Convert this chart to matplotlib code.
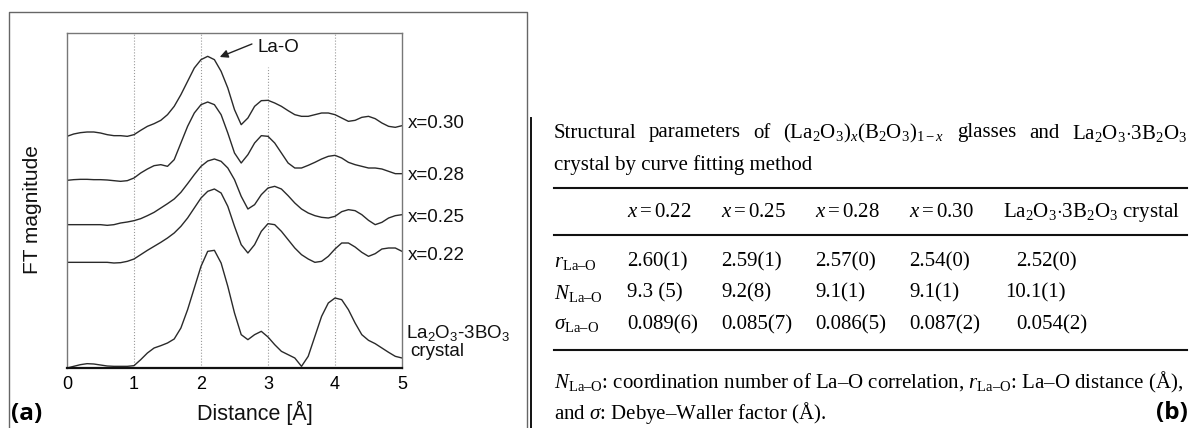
import matplotlib
matplotlib.use("Agg")
import matplotlib.pyplot as plt

plt.rcParams['mathtext.fontset'] = 'custom'
plt.rcParams['mathtext.rm'] = 'Liberation Serif'
plt.rcParams['mathtext.it'] = 'Liberation Serif:italic'
plt.rcParams['mathtext.bf'] = 'Liberation Serif:bold'

# ---------------- data: panel (a) ----------------
distance = [0.0, 0.1, 0.2, 0.3, 0.4, 0.5, 0.6, 0.7, 0.8, 0.9,
            1.0, 1.1, 1.2, 1.3, 1.4, 1.5, 1.6, 1.7, 1.8, 1.9,
            2.0, 2.1, 2.2, 2.3, 2.4, 2.5, 2.6, 2.7, 2.8, 2.9,
            3.0, 3.1, 3.2, 3.3, 3.4, 3.5, 3.6, 3.7, 3.8, 3.9,
            4.0, 4.1, 4.2, 4.3, 4.4, 4.5, 4.6, 4.7, 4.8, 4.9, 5.0]

ft_x030 = [69.5, 70.2, 70.6, 70.8, 70.8, 70.5, 70.0, 69.7, 69.7, 69.5,
           70.0, 71.3, 72.5, 73.3, 74.3, 76.0, 78.5, 82.0, 86.0, 90.0,
           92.5, 93.5, 92.5, 89.0, 84.0, 77.5, 73.0, 75.0, 78.5, 80.2,
           80.3, 79.5, 78.5, 77.2, 76.0, 75.5, 75.5, 76.0, 76.5, 76.5,
           76.0, 75.0, 74.0, 74.3, 75.2, 75.5, 74.8, 73.5, 72.5, 72.2, 72.7]
ft_x028 = [56.3, 56.5, 56.6, 56.6, 56.5, 56.5, 56.4, 56.2, 56.0, 56.2,
           57.0, 58.5, 59.7, 60.7, 61.0, 60.5, 62.5, 67.5, 72.5, 76.5,
           79.0, 79.8, 79.0, 76.0, 70.5, 64.5, 61.5, 64.0, 67.5, 69.7,
           69.5, 67.5, 64.5, 61.5, 60.0, 60.0, 60.8, 61.7, 62.7, 63.5,
           63.8, 63.0, 61.7, 61.0, 60.5, 60.0, 60.0, 59.7, 59.0, 58.3, 58.3]
ft_x025 = [43.0, 43.0, 43.0, 43.0, 43.0, 43.0, 42.8, 43.0, 43.5, 43.8,
           44.2, 44.8, 45.7, 46.7, 48.0, 49.3, 50.7, 52.7, 55.3, 58.0,
           60.5, 62.1, 62.7, 62.0, 60.0, 56.5, 51.5, 47.7, 49.0, 52.0,
           54.0, 54.5, 53.7, 51.7, 49.5, 47.7, 46.5, 45.7, 45.2, 45.0,
           45.5, 46.9, 47.5, 47.2, 46.0, 44.3, 43.0, 43.7, 45.0, 45.7, 46.0]
ft_x022 = [31.7, 31.7, 31.7, 31.7, 31.7, 31.7, 31.7, 31.5, 31.6, 32.0,
           32.7, 34.0, 35.3, 36.5, 37.7, 39.0, 40.5, 42.5, 45.0, 48.0,
           51.0, 53.0, 53.7, 52.5, 48.5, 42.5, 37.0, 34.5, 37.0, 41.0,
           43.3, 43.0, 41.0, 38.5, 36.0, 34.0, 32.7, 31.7, 32.0, 33.5,
           35.7, 37.5, 37.5, 36.3, 34.7, 33.5, 34.3, 35.7, 36.0, 36.0, 35.0]
ft_crystal = [0.0, 0.5, 1.0, 1.3, 1.2, 0.9, 0.6, 0.5, 0.5, 0.5,
              0.7, 2.5, 4.5, 6.0, 6.7, 7.5, 8.7, 12.0, 17.5, 24.0,
              30.5, 35.0, 35.3, 31.5, 24.5, 16.5, 10.0, 8.5, 10.0, 11.0,
              9.3, 7.0, 5.0, 4.0, 3.0, 0.5, 3.5, 9.5, 15.5, 19.5,
              21.0, 20.5, 17.5, 13.5, 10.0, 8.3, 7.3, 6.0, 4.7, 3.5, 3.0]

curve_labels = ["x=0.30", "x=0.28", "x=0.25", "x=0.22"]
curve_label_y = [73.5, 57.9, 45.3, 33.6]
x_ticks = [0, 1, 2, 3, 4, 5]

# ---------------- data: panel (b) table ----------------
title_words = ["Structural", "parameters", "of",
               r"$(\mathrm{La_2O_3})_x(\mathrm{B_2O_3})_{1-x}$",
               "glasses", "and", r"$\mathrm{La_2O_3{\cdot}3B_2O_3}$"]
title_line2 = "crystal by curve fitting method"
col_headers = [r"$x = 0.22$", r"$x = 0.25$", r"$x = 0.28$", r"$x = 0.30$",
               r"$\mathrm{La_2O_3{\cdot}3B_2O_3}$ crystal"]
row_labels = [r"$r_{\mathrm{La–O}}$", r"$N_{\mathrm{La–O}}$", r"$\sigma_{\mathrm{La–O}}$"]
r_vals = ["2.60(1)", "2.59(1)", "2.57(0)", "2.54(0)", "2.52(0)"]
N_vals = ["9.3 (5)", "9.2(8)", "9.1(1)", "9.1(1)", "10.1(1)"]
s_vals = ["0.089(6)", "0.085(7)", "0.086(5)", "0.087(2)", "0.054(2)"]
footnote = [r"$N_{\mathrm{La–O}}$: coordination number of La–O correlation, $r_{\mathrm{La–O}}$: La–O distance (Å),",
            r"and $\sigma$: Debye–Waller factor (Å)."]

# ---------------- figure ----------------
W, H = 1190, 428
fig = plt.figure(figsize=(W / 100, H / 100), dpi=100)

ov = fig.add_axes([0, 0, 1, 1], zorder=0)
ov.set_xlim(0, W)
ov.set_ylim(H, 0)
ov.axis('off')

# panel (a) frame
ov.plot([9, 9, 527, 527], [H, 12, 12, H], color='#666666', lw=1.0)
# panel (b) frame line
ov.plot([530.5, 530.5], [118, H], color='#111111', lw=1.4)

sans = 'Liberation Sans'
serif = 'Liberation Serif'

ax = fig.add_axes([67 / W, (H - 368) / H, (402 - 67) / W, (368 - 33) / H], zorder=2)
ax.set_facecolor('none')
ax.set_xlim(0, 5)
ax.set_ylim(0, 100.5)

for xv in [1, 2, 4]:
    ax.axvline(xv, color='#9a9a9a', lw=0.8, ls=':')
ax.axvline(3, ymax=0.9, color='#9a9a9a', lw=0.8, ls=':')

for ys in [ft_x030, ft_x028, ft_x025, ft_x022, ft_crystal]:
    ax.plot(distance, ys, color='#2a2a2a', lw=1.0)

for lab, yv in zip(curve_labels, curve_label_y):
    ax.text(5.09, yv, lab, fontsize=13.5, family=sans, va='center', ha='left',
            clip_on=False, color='#111111')
ax.text(5.06, 10.5, r"La$\mathregular{_2}$O$\mathregular{_3}$-3BO$\mathregular{_3}$",
        fontsize=13.5, family=sans, va='center', ha='left', clip_on=False, color='#111111')
ax.text(5.12, 4.8, "crystal", fontsize=13.5, family=sans, va='center', ha='left',
        clip_on=False, color='#111111')

ax.annotate('', xy=(2.28, 93.3), xytext=(2.76, 97.2),
            arrowprops=dict(arrowstyle='-|>', color='#222222', lw=1.0, mutation_scale=12,
                            shrinkA=0, shrinkB=0))
ax.text(2.84, 96.3, "La-O", fontsize=13.5, family=sans, va='center', ha='left', color='#111111')

ax.set_xticks(x_ticks)
ax.set_xticklabels([str(t) for t in x_ticks], family=sans, fontsize=13)
ax.tick_params(axis='x', length=0, pad=6)
ax.set_yticks([])
for s in ['top', 'left', 'right']:
    ax.spines[s].set_color('#777777')
    ax.spines[s].set_linewidth(1.0)
ax.spines['bottom'].set_color('#111111')
ax.spines['bottom'].set_linewidth(1.6)

ov.text(255, 413, "Distance [Å]", fontsize=15.5, family=sans, ha='center', va='center', color='#111111')
ov.text(33, 210, "FT magnitude", fontsize=15, family=sans, ha='center', va='center',
        rotation=90, color='#111111')
ov.text(27, 414, "(a)", fontsize=17.5, family='Open Sans', weight='bold', ha='center', va='center')
ov.text(1172, 413, "(b)", fontsize=17.5, family='Open Sans', weight='bold', ha='center', va='center')

# ---------------- panel (b) table ----------------
tx0, tx1 = 554, 1187
tfs = 15

# justified first title line
renderer = fig.canvas.get_renderer()
word_artists = [ov.text(0, 133, w, fontsize=tfs, family=serif, ha='left', va='center')
                for w in title_words]
widths = [a.get_window_extent(renderer=renderer).width for a in word_artists]
gap = (tx1 - tx0 - sum(widths)) / (len(widths) - 1)
xpos = tx0
for a, wdt in zip(word_artists, widths):
    a.set_x(xpos)
    xpos += wdt + gap

ov.text(tx0, 165, title_line2, fontsize=tfs, family=serif, ha='left', va='center')
for yr in [188, 235, 350]:
    ov.plot([tx0, tx1], [yr, yr], color='#111111', lw=1.5)

col_x = [627, 721, 815, 909, 1003]
for cx, hdr in zip(col_x, col_headers):
    ov.text(cx, 212, hdr, fontsize=tfs, family=serif, ha='left', va='center')

row_y = [262, 293, 325]
last_col_x = [1016, 1005, 1016]
for ry, lab, vals, lx in zip(row_y, row_labels, [r_vals, N_vals, s_vals], last_col_x):
    ov.text(tx0, ry, lab, fontsize=tfs, family=serif, ha='left', va='center')
    for cx, v in zip(col_x[:4] + [lx], vals):
        ov.text(cx, ry, v, fontsize=tfs, family=serif, ha='left', va='center')

ov.text(tx0, 382, footnote[0], fontsize=tfs, family=serif, ha='left', va='center')
ov.text(tx0, 413, footnote[1], fontsize=tfs, family=serif, ha='left', va='center')

fig.savefig("out.png", dpi=100)
